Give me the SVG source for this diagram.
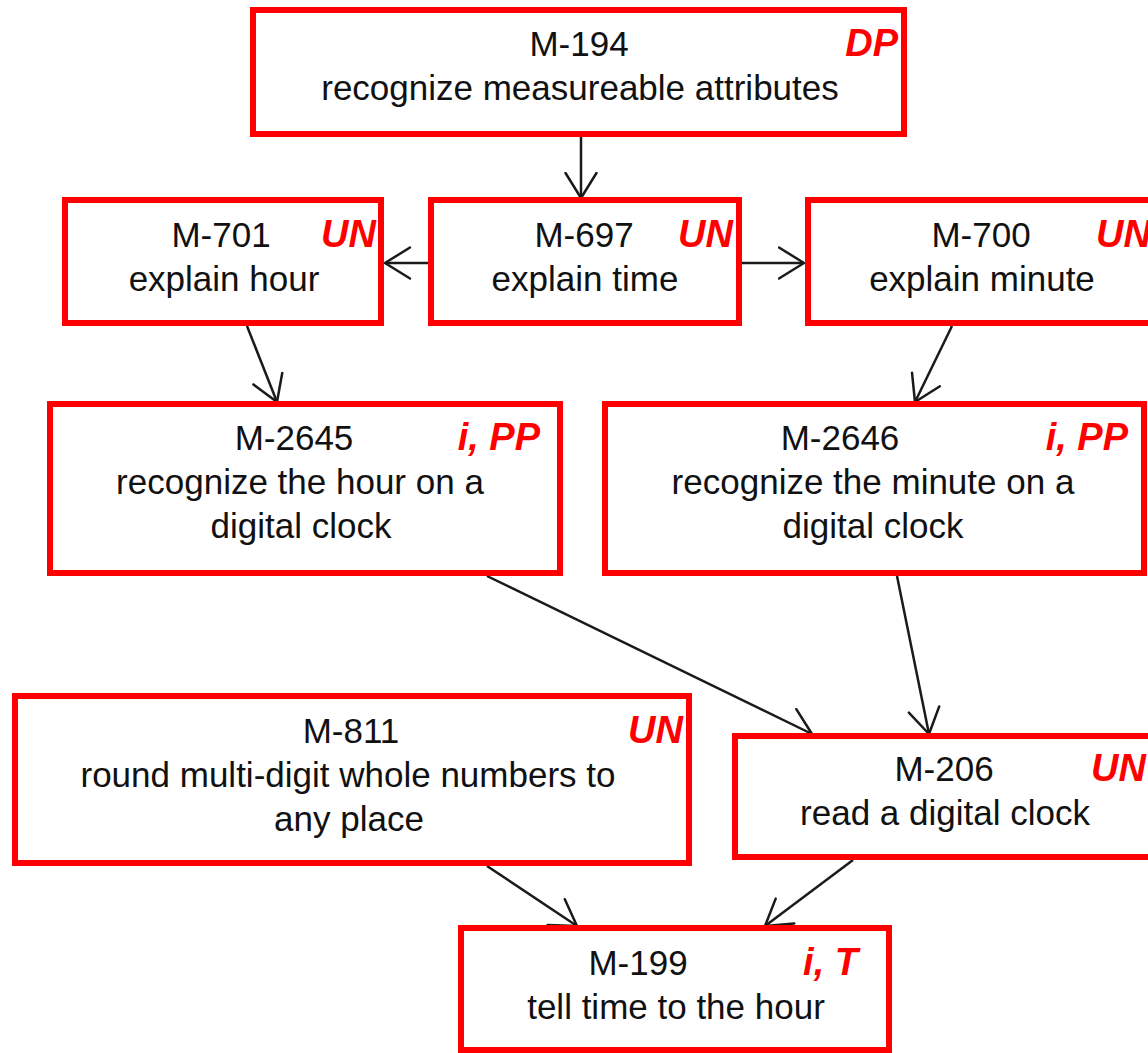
<svg xmlns="http://www.w3.org/2000/svg" width="1148" height="1053" viewBox="0 0 1148 1053">
  <style>
    .box { fill: #ffffff; stroke: #ff0000; stroke-width: 6; }
    .lbl { font-family: "Liberation Sans", Arial, sans-serif; font-size: 35px; fill: #111111; text-anchor: middle; }
    .tag { font-family: "Liberation Sans", Arial, sans-serif; font-size: 38px; font-weight: bold; font-style: italic; fill: #ff0000; text-anchor: end; }
    .edge { fill: none; stroke: #1a1a1a; stroke-width: 2.5; marker-end: url(#open); }
  </style>
  <defs>
    <marker id="open" markerUnits="userSpaceOnUse" viewBox="0 0 28 34" markerWidth="28" markerHeight="34" refX="26.5" refY="17" orient="auto">
      <path d="M1.5,1.5 L26.5,17 L1.5,32.5" fill="none" stroke="#1a1a1a" stroke-width="2.5" stroke-linecap="round" stroke-linejoin="round"/>
    </marker>
  </defs>
  <rect width="1148" height="1053" fill="#ffffff"/>

  <!-- prerequisite links -->
  <g id="connectors">
    <line class="edge" x1="581" y1="137" x2="581" y2="198"/>
    <line class="edge" x1="428" y1="263" x2="385" y2="263"/>
    <line class="edge" x1="742" y1="263" x2="804" y2="263"/>
    <line class="edge" x1="247" y1="326" x2="277" y2="402"/>
    <line class="edge" x1="952" y1="326" x2="915" y2="402"/>
    <line class="edge" x1="487" y1="576" x2="812" y2="734"/>
    <line class="edge" x1="897" y1="576" x2="929" y2="734"/>
    <line class="edge" x1="487" y1="866" x2="577" y2="926"/>
    <line class="edge" x1="853" y1="860" x2="765" y2="926"/>
  </g>

  <g id="M-194">
    <rect class="box" x="253" y="10" width="651" height="124"/>
    <text class="lbl" x="579" y="56">M-194</text>
    <text class="lbl" x="580" y="100">recognize measureable attributes</text>
    <text class="tag" x="898" y="56">DP</text>
  </g>

  <g id="M-701">
    <rect class="box" x="65" y="200" width="316" height="123"/>
    <text class="lbl" x="221" y="247">M-701</text>
    <text class="lbl" x="224" y="291">explain hour</text>
    <text class="tag" x="376" y="247">UN</text>
  </g>

  <g id="M-697">
    <rect class="box" x="431" y="200" width="308" height="123"/>
    <text class="lbl" x="584" y="247">M-697</text>
    <text class="lbl" x="585" y="291">explain time</text>
    <text class="tag" x="733" y="247">UN</text>
  </g>

  <g id="M-700">
    <rect class="box" x="808" y="200" width="350" height="123"/>
    <text class="lbl" x="981" y="247">M-700</text>
    <text class="lbl" x="982" y="291">explain minute</text>
    <text class="tag" x="1151" y="247">UN</text>
  </g>

  <g id="M-2645">
    <rect class="box" x="50" y="404" width="510" height="169"/>
    <text class="lbl" x="294" y="450">M-2645</text>
    <text class="lbl" x="300" y="494">recognize the hour on a</text>
    <text class="lbl" x="301" y="538">digital clock</text>
    <text class="tag" x="540" y="450">i, PP</text>
  </g>

  <g id="M-2646">
    <rect class="box" x="605" y="404" width="539" height="169"/>
    <text class="lbl" x="840" y="450">M-2646</text>
    <text class="lbl" x="873" y="494">recognize the minute on a</text>
    <text class="lbl" x="873" y="538">digital clock</text>
    <text class="tag" x="1128" y="450">i, PP</text>
  </g>

  <g id="M-811">
    <rect class="box" x="15" y="696" width="674" height="167"/>
    <text class="lbl" x="351" y="743">M-811</text>
    <text class="lbl" x="348" y="787">round multi-digit whole numbers to</text>
    <text class="lbl" x="349" y="831">any place</text>
    <text class="tag" x="683" y="743">UN</text>
  </g>

  <g id="M-206">
    <rect class="box" x="735" y="736" width="422" height="121"/>
    <text class="lbl" x="944" y="781">M-206</text>
    <text class="lbl" x="945" y="825">read a digital clock</text>
    <text class="tag" x="1146" y="781">UN</text>
  </g>

  <g id="M-199">
    <rect class="box" x="461" y="928" width="428" height="122"/>
    <text class="lbl" x="638" y="975">M-199</text>
    <text class="lbl" x="676" y="1019">tell time to the hour</text>
    <text class="tag" x="858" y="975">i, T</text>
  </g>
</svg>
